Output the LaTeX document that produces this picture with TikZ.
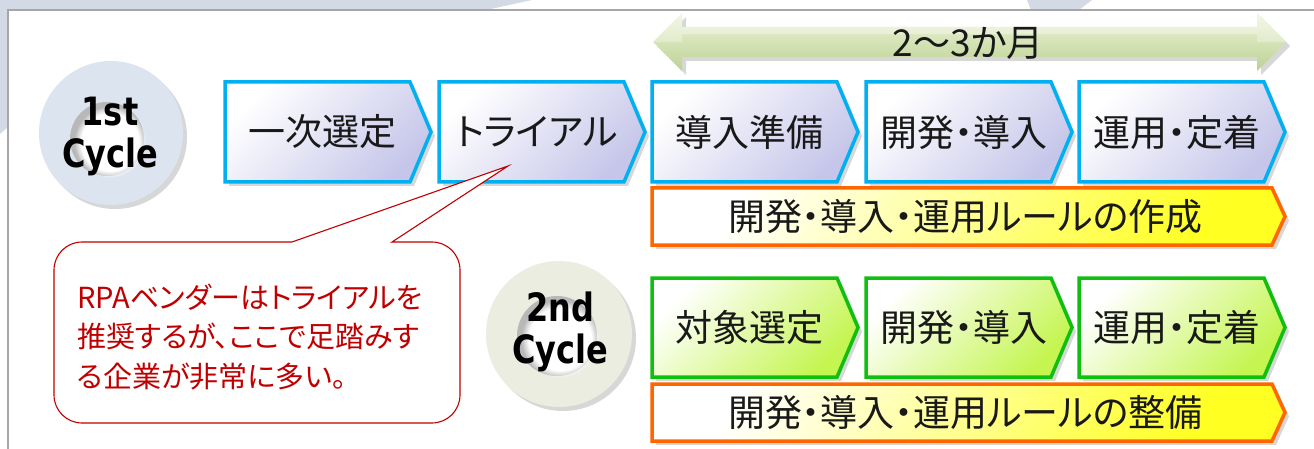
\documentclass[tikz,border=0pt]{standalone}
\usepackage{fontspec}
\usetikzlibrary{shadows,fadings}
\newfontfamily\jp[RawFeature=+palt]{Noto Sans CJK JP}
\newfontfamily\cyc[FakeStretch=0.82]{DejaVu Sans}
\definecolor{bgblue}{HTML}{D3DAE6}
\definecolor{frameg}{HTML}{A6A6A6}
\definecolor{cyanb}{HTML}{00B0F0}
\definecolor{lav}{HTML}{C6C6EA}
\definecolor{greenb}{HTML}{10C010}
\definecolor{lime}{HTML}{C4F550}
\definecolor{orangeb}{HTML}{FF6600}
\definecolor{yel}{HTML}{FFFF22}
\definecolor{arrtop}{HTML}{EEF4DC}
\definecolor{arrmid}{HTML}{D5E3B6}
\definecolor{arrbot}{HTML}{BDD194}
\definecolor{ringa}{HTML}{DCE4EF}
\definecolor{ringb}{HTML}{EAEDDF}
\definecolor{calred}{HTML}{C00000}
\tikzset{
  shad/.style={drop shadow={shadow xshift=4pt,shadow yshift=-4pt,opacity=.22,fill=black!70}},
  bluechev/.style={draw=cyanb,line width=3.5pt,top color=white,bottom color=lav,shading angle=45,shad},
  greenchev/.style={draw=greenb,line width=3.5pt,top color=white,bottom color=lime,shading angle=45,shad},
  orangebar/.style={draw=orangeb,line width=3.5pt,top color=white,bottom color=yel,shading angle=60,shad},
  chevtext/.style={font=\jp\fontsize{37}{40}\selectfont,text=black!90,inner sep=0pt},
  cyctext/.style={font=\cyc\bfseries\fontsize{39}{42}\selectfont,align=center,inner sep=0pt},
  caltext/.style={font=\jp\fontsize{29}{39.5}\selectfont,text=calred,align=left,inner sep=0pt},
}
% #1 name, #2 x1, #3 y1, #4 x2 (tip), #5 y2, #6 depth, #7 style, #8 text
\newcommand\chevron[8]{%
  \path[#7] (#2,#3) -- (#4-#6,#3) -- (#4,{(#3+#5)/2}) -- (#4-#6,#5) -- (#2,#5) -- cycle;
  \node[chevtext] (#1) at ({(#2+#4-#6/2)/2},{(#3+#5)/2}) {#8};
}
\begin{document}
\begin{tikzpicture}[x=1pt,y=-1pt]
\useasboundingbox (0,0) rectangle (1314,449);
% background slide shapes
\fill[bgblue] (0,0) -- (532,0) -- (486,10) -- (8,10) -- (8,127) -- (0,134) -- cycle;
\fill[bgblue] (1027,0) -- (1092,0) -- (1079,10) -- (1031,10) -- cycle;
\fill[white] (8.5,10.5) rectangle (1314,449);
\draw[frameg,line width=1.2pt] (8,449) -- (8,10) -- (1314,10);

% cycle rings
\fill[ringa,shad] (111,133) circle[radius=72];
\fill[black!28] (107,139) circle[radius=37];
\fill[white,path fading=circle with fuzzy edge 20 percent] (110,142) circle[radius=36];
\node[cyctext] (c1) at (110,136) {1st\\Cycle};

\fill[ringb,shad] (559,334) circle[radius=73];
\fill[black!28] (557,336) circle[radius=40];
\fill[white,path fading=circle with fuzzy edge 20 percent] (560,339) circle[radius=39];
\node[cyctext] (c2) at (560,332) {2nd\\Cycle};

% double arrow
\path[top color=arrtop,bottom color=arrbot,middle color=arrmid,shad]
  (653,42) -- (682,13) -- (682,27) -- (1257,27) -- (1257,13) -- (1286,42)
  -- (1257,71) -- (1257,57) -- (682,57) -- (682,71) -- cycle;
\fill[white,opacity=.35] (682,27) rectangle (1257,34);
\fill[white,opacity=.3] (653,42) -- (682,13) -- (682,42) -- cycle;
\fill[white,opacity=.3] (1257,13) -- (1286,42) -- (1257,42) -- cycle;
\node[chevtext] (dur) at (968,43) {2〜3か月};

% first cycle
\chevron{s1}{225}{82}{431}{182}{21}{bluechev}{一次選定}
\chevron{s2}{439}{82}{645}{182}{21}{bluechev}{トライアル}
\chevron{s3}{652}{82}{858}{182}{21}{bluechev}{導入準備}
\chevron{s4}{866}{82}{1072}{182}{21}{bluechev}{開発・導入}
\chevron{s5}{1079}{82}{1285}{182}{21}{bluechev}{運用・定着}
\chevron{r1}{652}{188}{1285}{245}{13}{orangebar}{開発・導入・運用ルールの作成}

% second cycle
\chevron{t1}{652}{278}{858}{377}{21}{greenchev}{対象選定}
\chevron{t2}{866}{278}{1072}{377}{21}{greenchev}{開発・導入}
\chevron{t3}{1079}{278}{1285}{377}{21}{greenchev}{運用・定着}
\chevron{r2}{652}{384}{1285}{441}{13}{orangebar}{開発・導入・運用ルールの整備}

% callout
\draw[calred,line width=1.1pt,fill=white]
  (392,242) -- (432,242) arc[start angle=-90,end angle=0,radius=28]
  -- (460,395) arc[start angle=0,end angle=90,radius=28]
  -- (82,423) arc[start angle=90,end angle=180,radius=28]
  -- (54,270) arc[start angle=180,end angle=270,radius=28]
  -- (292,242) -- (508,166) -- cycle;
\node[caltext,anchor=west] (note) at (77,337) {RPAベンダーはトライアルを\\推奨するが、ここで足踏みす\\る企業が非常に多い。};
\end{tikzpicture}
\end{document}
